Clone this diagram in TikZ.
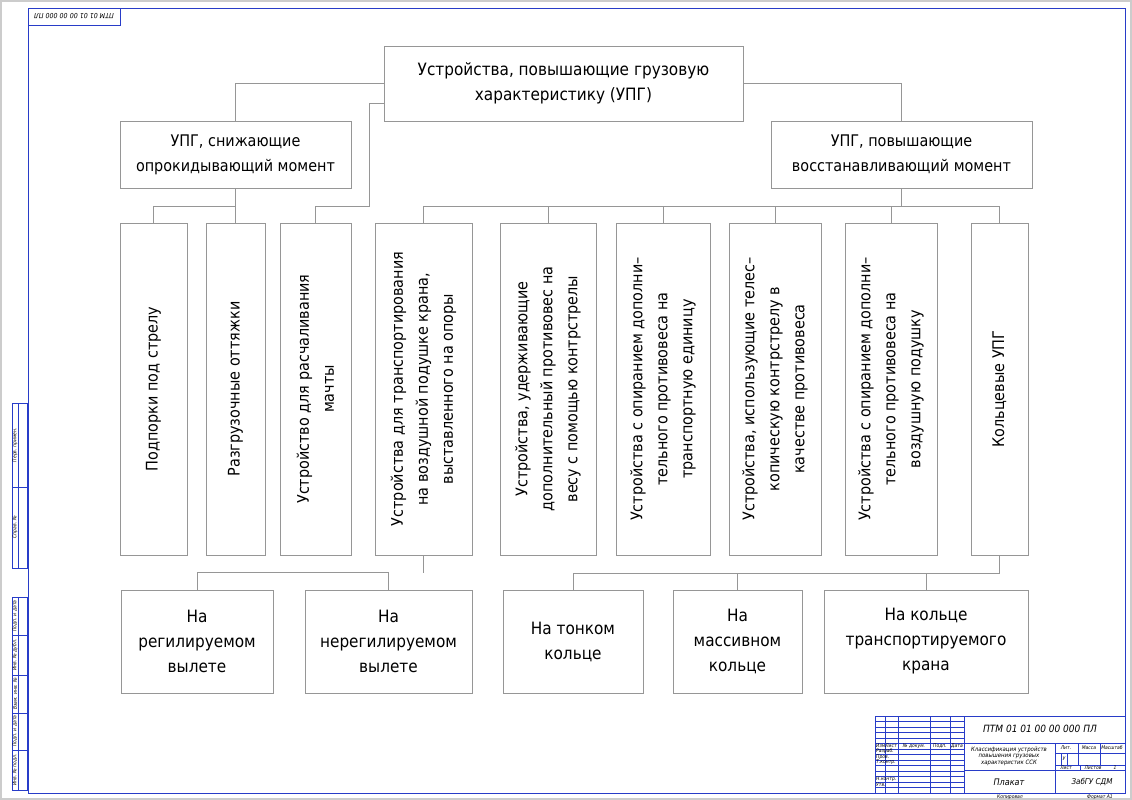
\documentclass[tikz,border=0pt]{standalone}
\usepackage{fontspec}
\setmainfont{DejaVu Sans Condensed}
\usetikzlibrary{positioning}
\definecolor{framecol}{RGB}{40,60,200}
\definecolor{boxcol}{RGB}{150,150,150}
\tikzset{
  box/.style={draw=boxcol, line width=0.9pt, rectangle},
  txt/.style={align=center, font=\fontsize{16}{25}\selectfont},
  vtxt/.style={txt, rotate=90},
  big/.style={align=center, font=\fontsize{17}{25}\selectfont},
  link/.style={draw=boxcol, line width=0.9pt},
  tiny/.style={font=\fontsize{5}{6}\itshape, inner sep=0pt},
}
\begin{document}
\begin{tikzpicture}[x=1pt,y=-1pt]
\useasboundingbox (0,0) rectangle (1132,800);
\draw[gray!40, line width=1.5pt] (1,1) rectangle (1131,799);

% frame
\draw[framecol, line width=0.8pt] (28,8) rectangle (1125,793);
\draw[framecol, line width=0.6pt] (28,8) rectangle (120,25);
\node[tiny, rotate=180, font=\fontsize{7}{8}\itshape] (stamp) at (74,16.5) {ПТМ 01 01 00 00 000 ПЛ};

% left strip
\draw[framecol, line width=0.6pt] (12,403) rectangle (27,568) (18,403) -- (18,568) (12,487) -- (27,487);
\draw[framecol, line width=0.6pt] (12,597) rectangle (27,790) (18,597) -- (18,790);
\foreach \y in {635,675,713,750} \draw[framecol, line width=0.6pt] (12,\y) -- (27,\y);
\node[tiny, rotate=90] at (15,445) {Перв. примен.};
\node[tiny, rotate=90] at (15,527) {Справ. №};
\node[tiny, rotate=90] at (15,616) {Подп. и дата};
\node[tiny, rotate=90] at (15,655) {Инв. № дубл.};
\node[tiny, rotate=90] at (15,694) {Взам. инв. №};
\node[tiny, rotate=90] at (15,731) {Подп. и дата};
\node[tiny, rotate=90] at (15,770) {Инв. № подл.};

% title block
\draw[framecol, line width=0.7pt] (875,716) rectangle (1125,793) (964,716) -- (964,793);
\foreach \y in {721.5,727,732.5,738,743.5,749,754.5,760,765.5,771,776.5,782,787.5}
  \draw[framecol, line width=0.4pt] (875,\y) -- (964,\y);
\foreach \x in {885,898,930,950} \draw[framecol, line width=0.5pt] (\x,716) -- (\x,793);
\draw[framecol, line width=0.6pt] (964,743) -- (1125,743) (964,770) -- (1125,770);
\draw[framecol, line width=0.5pt] (1055,743) -- (1055,793) (1055,753) -- (1125,753)
  (1078,743) -- (1078,765) (1100,743) -- (1100,765) (1055,765) -- (1125,765)
  (1061,753) -- (1061,765) (1067,753) -- (1067,765) (1080,765) -- (1080,770);
\node[tiny, font=\fontsize{10}{11}\itshape] at (1040,729) {ПТМ 01 01 00 00 000 ПЛ};
\node[tiny, align=center, font=\fontsize{6}{6.5}\itshape] at (1009,756) {Классификация устройств\\повышения грузовых\\характеристик ССК};
\node[tiny, font=\fontsize{9}{10}\itshape] at (1009,782) {Плакат};
\node[tiny, font=\fontsize{8}{9}\itshape] at (1092,782) {ЗабГУ СДМ};
\node[tiny] at (1066,748) {Лит.};
\node[tiny] at (1089,748) {Масса};
\node[tiny] at (1112,748) {Масштаб};
\node[tiny] at (1064,759) {У};
\node[tiny] at (1066,767.5) {Лист};
\node[tiny] at (1093,767.5) {Листов};
\node[tiny] at (1115,767.5) {1};
\node[tiny, anchor=west] at (876,746) {Изм.};
\node[tiny] at (891,746) {Лист};
\node[tiny] at (914,746) {№ докум.};
\node[tiny] at (940,746) {Подп.};
\node[tiny] at (957,746) {Дата};
\node[tiny, anchor=west] at (876,751.5) {Разраб.};
\node[tiny, anchor=west] at (876,757) {Пров.};
\node[tiny, anchor=west] at (876,762.5) {Т.контр.};
\node[tiny, anchor=west] at (876,779.5) {Н.контр.};
\node[tiny, anchor=west] at (876,785) {Утв.};
\node[tiny] at (1010,797) {Копировал};
\node[tiny] at (1100,797) {Формат А1};

% top levels
\node[box, minimum width=359, minimum height=75, big] (top) at (563.5,83.5)
  {Устройства, повышающие грузовую\\характеристику (УПГ)};
\node[box, minimum width=231, minimum height=67, txt] (lft) at (235.5,154.5)
  {УПГ, снижающие\\опрокидывающий момент};
\node[box, minimum width=261, minimum height=67, txt] (rgt) at (901.5,154.5)
  {УПГ, повышающие\\восстанавливающий момент};

% middle row
\node[box, minimum width=67, minimum height=332] (b1) at (153.5,389) {};
\node[box, minimum width=59, minimum height=332] (b2) at (235.5,389) {};
\node[box, minimum width=71, minimum height=332] (b3) at (315.5,389) {};
\node[box, minimum width=97, minimum height=332] (b4) at (423.5,389) {};
\node[box, minimum width=96, minimum height=332] (b5) at (548,389) {};
\node[box, minimum width=94, minimum height=332] (b6) at (663,389) {};
\node[box, minimum width=92, minimum height=332] (b7) at (775,389) {};
\node[box, minimum width=92, minimum height=332] (b8) at (891,389) {};
\node[box, minimum width=57, minimum height=332] (b9) at (999.5,389) {};
\node[vtxt] at (b1) {Подпорки под стрелу};
\node[vtxt] at (b2) {Разгрузочные оттяжки};
\node[vtxt] at (b3) {Устройство для расчаливания\\мачты};
\node[vtxt] at (b4) {Устройства для транспортирования\\на воздушной подушке крана,\\выставленного на опоры};
\node[vtxt] at (b5) {Устройства, удерживающие\\дополнительный противовес на\\весу с помощью контрстрелы};
\node[vtxt] at (b6) {Устройства с опиранием дополни--\\тельного противовеса на\\транспортную единицу};
\node[vtxt] at (b7) {Устройства, использующие телес--\\копическую контрстрелу в\\качестве противовеса};
\node[vtxt] at (b8) {Устройства с опиранием дополни--\\тельного противовеса на\\воздушную подушку};
\node[vtxt] at (b9) {Кольцевые УПГ};

% bottom row
\node[box, minimum width=152, minimum height=103, big] (c1) at (197,641.5) {На\\регилируемом\\вылете};
\node[box, minimum width=167, minimum height=103, big] (c2) at (388.5,641.5) {На\\нерегилируемом\\вылете};
\node[box, minimum width=140, minimum height=103, big] (c3) at (573,641.5) {На тонком\\кольце};
\node[box, minimum width=129, minimum height=103, big] (c4) at (737.5,641.5) {На\\массивном\\кольце};
\node[box, minimum width=204, minimum height=103, big] (c5) at (926,641.5) {На кольце\\транспортируемого\\крана};

% connectors
\coordinate (k3) at (369,206);
\draw[link] (top.west) -| (lft.north);
\draw[link] (top.east) -| (rgt.north);
\draw[link] ([yshift=-20pt]top.west) -| (k3) -| (b3.north);
\draw[link] (lft.south) -- (b2.north);
\draw[link] (lft.south) ++(0,18) -| (b1.north);
\draw[link] (rgt.south) -- ++(0,18);
\draw[link] (b4.north) -- ++(0,-16) -| (b9.north);
\foreach \b in {b5,b6,b7,b8} \draw[link] (\b.north) -- ++(0,-16);
\draw[link] (b4.south) -- ++(0,18);
\draw[link] (c1.north) -- ++(0,-17) -| (c2.north);
\draw[link] (b9.south) -- ++(0,18) -| (c3.north);
\draw[link] (c4.north) -- ++(0,-17);
\draw[link] (c5.north) -- ++(0,-17);
\end{tikzpicture}
\end{document}
